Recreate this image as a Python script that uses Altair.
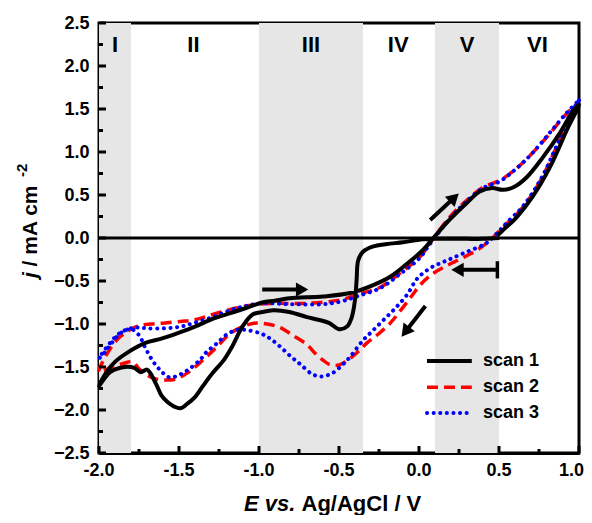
import altair as alt
import pandas as pd
import numpy as np

# ---------------- data ----------------
# scan 1 (black, solid): start 0.5 V -> -2.0 V -> 1.0 V -> 0.5 V
s1_E = [0.50, 0.40, 0.30, 0.20, 0.10, 0.00, -0.10, -0.20, -0.29, -0.35, -0.38, -0.39, -0.40, -0.42,
        -0.45, -0.50, -0.56, -0.63, -0.70, -0.81, -0.91, -0.98, -1.04, -1.10, -1.17, -1.22, -1.29,
        -1.35, -1.40, -1.45, -1.49, -1.53, -1.57, -1.61, -1.64, -1.68, -1.70, -1.74, -1.78, -1.84,
        -1.93, -2.00,
        -1.95, -1.90, -1.82, -1.71, -1.61, -1.50, -1.40, -1.29, -1.19, -1.09, -0.98, -0.90, -0.81,
        -0.60, -0.43, -0.29, -0.18, -0.075, 0.025, 0.09, 0.19, 0.30, 0.38, 0.456, 0.525, 0.59,
        0.675, 0.775, 0.88, 0.96, 1.00,
        0.925, 0.82, 0.71, 0.61, 0.53, 0.49]
s1_j = [0.00, -0.01, -0.01, -0.01, -0.01, -0.02, -0.05, -0.07, -0.10, -0.16, -0.26, -0.49, -0.72, -0.92,
        -1.03, -1.06, -0.99, -0.95, -0.92, -0.86, -0.84, -0.86, -0.89, -1.02, -1.27, -1.42, -1.57,
        -1.72, -1.85, -1.93, -1.98, -1.96, -1.91, -1.83, -1.71, -1.57, -1.53, -1.56, -1.51, -1.50,
        -1.56, -1.72,
        -1.55, -1.44, -1.33, -1.22, -1.17, -1.10, -1.03, -0.94, -0.88, -0.82, -0.75, -0.73, -0.70,
        -0.68, -0.64, -0.55, -0.45, -0.30, -0.14, 0.00, 0.21, 0.41, 0.54, 0.58, 0.56, 0.59,
        0.71, 0.94, 1.22, 1.47, 1.55,
        1.26, 0.83, 0.48, 0.24, 0.10, 0.03]

# scan 2 (red, dashed)
s2_E = [1.00, 0.94, 0.86, 0.76, 0.65, 0.55, 0.49, 0.46, 0.38, 0.275, 0.175, 0.09, 0.01, -0.04, -0.11,
        -0.18, -0.25, -0.325, -0.38, -0.43, -0.47, -0.51, -0.56, -0.60, -0.65, -0.70, -0.79, -0.87,
        -0.95, -1.03, -1.10, -1.18, -1.26, -1.34, -1.44, -1.52, -1.60, -1.66, -1.71, -1.75, -1.79,
        -1.85, -1.92, -2.00,
        -1.96, -1.92, -1.88, -1.84, -1.80, -1.75, -1.68, -1.60, -1.49, -1.40, -1.29, -1.18, -1.08,
        -1.00, -0.90, -0.70, -0.49, -0.39, -0.24, -0.12, 0.006, 0.08, 0.19, 0.30, 0.40, 0.506,
        0.61, 0.71, 0.82, 0.925, 1.00]
s2_j = [1.58, 1.41, 1.06, 0.67, 0.36, 0.17, 0.06, 0.00, -0.12, -0.23, -0.32, -0.41, -0.54, -0.66, -0.83,
        -0.99, -1.11, -1.22, -1.32, -1.40, -1.45, -1.48, -1.47, -1.42, -1.34, -1.24, -1.13, -1.04,
        -1.00, -0.99, -1.03, -1.11, -1.26, -1.40, -1.56, -1.64, -1.65, -1.63, -1.58, -1.52, -1.44,
        -1.46, -1.50, -1.56,
        -1.38, -1.26, -1.17, -1.11, -1.06, -1.02, -1.00, -0.99, -0.97, -0.95, -0.89, -0.83, -0.79,
        -0.77, -0.76, -0.76, -0.72, -0.66, -0.57, -0.41, -0.22, -0.03, 0.24, 0.44, 0.59, 0.67,
        0.81, 0.99, 1.22, 1.45, 1.58]

# scan 3 (blue, dotted)
s3_E = [1.00, 0.94, 0.86, 0.76, 0.65, 0.55, 0.49, 0.42, 0.30, 0.175, 0.07, -0.01, -0.075, -0.15, -0.22,
        -0.29, -0.35, -0.43, -0.47, -0.54, -0.61, -0.67, -0.74, -0.80, -0.87, -0.93, -0.99, -1.08,
        -1.14, -1.20, -1.26, -1.33, -1.37, -1.45, -1.52, -1.56, -1.60, -1.66, -1.71, -1.75, -1.80,
        -1.86, -1.92, -1.96, -2.00,
        -1.94, -1.88, -1.82, -1.75, -1.70, -1.59, -1.49, -1.41, -1.29, -1.18, -1.08, -0.98, -0.80,
        -0.60, -0.49, -0.39, -0.24, -0.12, 0.00, 0.08, 0.19, 0.30, 0.40, 0.506, 0.61, 0.71, 0.82,
        0.925, 1.00]
s3_j = [1.60, 1.42, 1.07, 0.68, 0.37, 0.18, 0.06, -0.06, -0.16, -0.26, -0.35, -0.47, -0.66, -0.82, -0.95,
        -1.08, -1.19, -1.38, -1.46, -1.57, -1.61, -1.58, -1.47, -1.38, -1.26, -1.17, -1.11, -1.07,
        -1.07, -1.12, -1.22, -1.33, -1.42, -1.54, -1.61, -1.62, -1.57, -1.44, -1.28, -1.13, -1.06,
        -1.10, -1.22, -1.32, -1.40,
        -1.24, -1.12, -1.06, -1.04, -1.05, -1.05, -1.03, -0.99, -0.92, -0.84, -0.79, -0.76, -0.77,
        -0.77, -0.74, -0.68, -0.58, -0.42, -0.24, -0.04, 0.22, 0.43, 0.58, 0.66, 0.81, 0.99, 1.23,
        1.46, 1.60]

# shaded potential regions and their labels
shade_from = [-2.0, -1.0, 0.1]
shade_to = [-1.8, -0.35, 0.5]
region_names = ["I", "II", "III", "IV", "V", "VI"]
region_E = [-1.90, -1.41, -0.675, -0.13, 0.30, 0.74]
region_j = [2.25] * 6

# axis ticks
x_ticks = [-2.0, -1.5, -1.0, -0.5, 0.0, 0.5, 1.0]
x_tick_labels = ["-2.0", "-1.5", "-1.0", "-0.5", "0.0", "0.5", "1.0"]
y_ticks = [-2.5, -2.0, -1.5, -1.0, -0.5, 0.0, 0.5, 1.0, 1.5, 2.0, 2.5]
x_minor = [-1.75, -1.25, -0.75, -0.25, 0.25, 0.75]
y_minor = [-2.25, -1.75, -1.25, -0.75, -0.25, 0.25, 0.75, 1.25, 1.75, 2.25]

# arrows (start -> tip) in data units
arr_E0 = [-0.98, 0.07, 0.49, 0.04]
arr_j0 = [-0.60, 0.21, -0.37, -0.79]
arr_E1 = [-0.69, 0.25, 0.20, -0.11]
arr_j1 = [-0.60, 0.52, -0.37, -1.15]

# legend
legend_names = ["scan 1", "scan 2", "scan 3"]
legend_j = [-1.43, -1.735, -2.035]
legend_E0, legend_E1, legend_Etext = 0.05, 0.33, 0.40

# ---------------- chart ----------------
W, H = 480, 430
FONT = "Liberation Sans"
XD = [-2.0, 1.0]
YD = [-2.5, 2.5]
xs = alt.Scale(domain=XD, nice=False, zero=False)
ys = alt.Scale(domain=YD, nice=False, zero=False)

ax_x = alt.Axis(values=x_ticks, title=None, grid=False, ticks=False, labels=False,
                domainColor="black", domainWidth=3)
ax_y = alt.Axis(values=y_ticks, format=".1f", title=None, grid=False, ticks=False,
                domainColor="black", domainWidth=3, labelFont=FONT, labelFontWeight="bold",
                labelFontSize=18, labelColor="black", labelPadding=10, labelFlush=False)


def X(f):
    return alt.X(f, type="quantitative", scale=xs, axis=ax_x)


def Y(f):
    return alt.Y(f, type="quantitative", scale=ys, axis=ax_y)


def px(E):
    return (np.asarray(E) - XD[0]) / (XD[1] - XD[0]) * W


def py(j):
    return (YD[1] - np.asarray(j)) / (YD[1] - YD[0]) * H


def toE(p):
    return p / W * (XD[1] - XD[0]) + XD[0]


def toj(p):
    return YD[1] - p / H * (YD[1] - YD[0])


shade = alt.Chart(pd.DataFrame({"x0": shade_from, "x1": shade_to})).mark_rect(
    color="#e6e6e6").encode(x=X("x0"), x2="x1", y=alt.value(0), y2=alt.value(H))

zero = alt.Chart(pd.DataFrame({"E": XD, "j": [0.0, 0.0]})).mark_line(
    color="black", strokeWidth=3).encode(x=X("E"), y=Y("j"))


def curve(E, j, **kw):
    df = pd.DataFrame({"E": E, "j": j, "i": range(len(E))})
    return alt.Chart(df).mark_line(interpolate="catmull-rom", **kw).encode(
        x=X("E"), y=Y("j"), order="i:Q")


red = curve(s2_E, s2_j, color="#ff0000", strokeWidth=3.5, strokeDash=[11, 6])
blue = curve(s3_E, s3_j, color="#0000ff", strokeWidth=4, strokeDash=[0.1, 6.5], strokeCap="round")
black = curve(s1_E, s1_j, color="black", strokeWidth=4)

# inward ticks
xt_major = alt.Chart(pd.DataFrame({"E": x_ticks})).mark_rule(color="black", strokeWidth=3).encode(
    x=X("E"), y=alt.value(H), y2=alt.value(H - 7))
xt_minor = alt.Chart(pd.DataFrame({"E": x_minor})).mark_rule(color="black", strokeWidth=3).encode(
    x=X("E"), y=alt.value(H), y2=alt.value(H - 4))
yt_major = alt.Chart(pd.DataFrame({"j": y_ticks})).mark_rule(color="black", strokeWidth=3).encode(
    y=Y("j"), x=alt.value(0), x2=alt.value(7))
yt_minor = alt.Chart(pd.DataFrame({"j": y_minor})).mark_rule(color="black", strokeWidth=3).encode(
    y=Y("j"), x=alt.value(0), x2=alt.value(4))

# x tick labels (last one kept inside the page)
xl_main = alt.Chart(pd.DataFrame({"E": x_ticks[:-1], "t": x_tick_labels[:-1]})).mark_text(
    font=FONT, fontWeight="bold", fontSize=18, color="black", align="center", baseline="top"
).encode(x=X("E"), y=alt.value(H + 9), text="t:N")
xl_last = alt.Chart(pd.DataFrame({"E": x_ticks[-1:], "t": x_tick_labels[-1:]})).mark_text(
    font=FONT, fontWeight="bold", fontSize=18, color="black", align="right", baseline="top", dx=5
).encode(x=X("E"), y=alt.value(H + 9), text="t:N")

regions = alt.Chart(pd.DataFrame({"E": region_E, "j": region_j, "t": region_names})).mark_text(
    font=FONT, fontWeight="bold", fontSize=22, color="black", align="center", baseline="middle"
).encode(x=X("E"), y=Y("j"), text="t:N")

# arrows
HEAD = 13.0
p0x, p0y = px(arr_E0), py(arr_j0)
p1x, p1y = px(arr_E1), py(arr_j1)
dx, dy = p1x - p0x, p1y - p0y
n = np.hypot(dx, dy)
ux, uy = dx / n, dy / n
shaft_end_x, shaft_end_y = p1x - ux * HEAD * 0.6, p1y - uy * HEAD * 0.6
head_x, head_y = p1x - ux * HEAD / 2, p1y - uy * HEAD / 2
ang = np.degrees(np.arctan2(uy, ux)) % 360
df_arr = pd.DataFrame({
    "x0": arr_E0, "y0": arr_j0, "x1": toE(shaft_end_x), "y1": toj(shaft_end_y),
    "hx": toE(head_x), "hy": toj(head_y), "ang": ang})
shafts = alt.Chart(df_arr).mark_rule(color="black", strokeWidth=4).encode(
    x=X("x0"), x2="x1", y=Y("y0"), y2="y1")
heads = alt.Chart(df_arr).mark_point(shape="triangle-right", filled=True, color="black",
                                     opacity=1, size=HEAD * HEAD * 1.2, strokeWidth=0).encode(
    x=X("hx"), y=Y("hy"), angle=alt.Angle("ang:Q", scale=None))
bar = alt.Chart(pd.DataFrame({"E": [arr_E0[2]], "ja": [arr_j0[2] + 0.1], "jb": [arr_j0[2] - 0.1]})
                ).mark_rule(color="black", strokeWidth=3.5).encode(x=X("E"), y=Y("ja"), y2="jb")

# legend
leg_black = alt.Chart(pd.DataFrame({"E": [legend_E0, legend_E1], "j": [legend_j[0]] * 2})).mark_line(
    color="black", strokeWidth=4).encode(x=X("E"), y=Y("j"))
leg_red = alt.Chart(pd.DataFrame({"E": [legend_E0, legend_E1], "j": [legend_j[1]] * 2})).mark_line(
    color="#ff0000", strokeWidth=3.5, strokeDash=[11, 6]).encode(x=X("E"), y=Y("j"))
leg_blue = alt.Chart(pd.DataFrame({"E": [legend_E0, legend_E1], "j": [legend_j[2]] * 2})).mark_line(
    color="#0000ff", strokeWidth=4, strokeDash=[0.1, 6.5], strokeCap="round").encode(x=X("E"), y=Y("j"))
leg_text = alt.Chart(pd.DataFrame({"E": [legend_Etext] * 3, "j": legend_j, "t": legend_names})).mark_text(
    font=FONT, fontWeight="bold", fontSize=18, color="black", align="left", baseline="middle"
).encode(x=X("E"), y=Y("j"), text="t:N")

# axis titles (mixed italic / upright, superscript)
def label(text, x, y, **kw):
    return alt.Chart(pd.DataFrame({"t": [text]})).mark_text(
        font=FONT, fontWeight="bold", color="black", **kw).encode(
        x=alt.value(x), y=alt.value(y), text="t:N")


xt1 = label("E vs.", 145, 488, fontSize=22, fontStyle="italic", align="left", baseline="alphabetic")
xt2 = label("Ag/AgCl / V", 202.5, 488, fontSize=22, align="left", baseline="alphabetic")
yt1 = label("j", -62, 255, fontSize=21, fontStyle="italic", angle=270, align="left", baseline="alphabetic")
yt2 = label("/ mA cm", -62, 243.4, fontSize=21, angle=270, align="left", baseline="alphabetic")
yt3 = label("-2", -72, 154, fontSize=15, angle=270, align="left", baseline="alphabetic")

chart = alt.layer(
    shade, zero, red, blue, black, xt_major, xt_minor, yt_major, yt_minor, xl_main, xl_last,
    regions, shafts, heads, bar, leg_black, leg_red, leg_blue, leg_text, xt1, xt2, yt1, yt2, yt3
).properties(
    width=W, height=H,
    autosize=alt.AutoSizeParams(type="none"),
    padding={"left": 91, "top": 15, "right": 5, "bottom": 62},
).configure_view(stroke="black", strokeWidth=3)

chart.save("out.html", embed_options={"renderer": "svg", "actions": False})
